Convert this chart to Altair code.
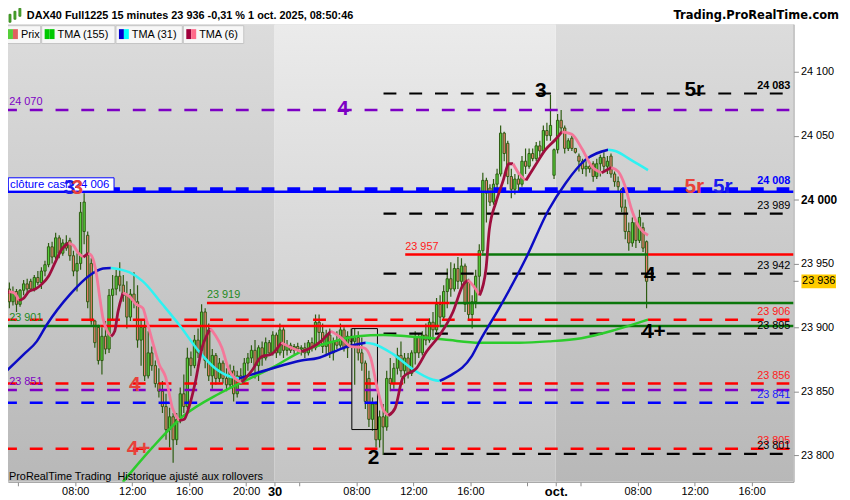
import altair as alt
import pandas as pd

# 15 minute candles, bar 0 = 29 sept 03:00 (sessions 02:15 - 22:00)
bar_open = [23924, 23930, 23920, 23928, 23918, 23929, 23934, 23936, 23930, 23939,
            23935, 23944, 23949, 23963, 23955, 23970, 23958, 23966, 23968, 23956,
            23944, 23950, 23975, 23972, 23950, 23905, 23900, 23874, 23893, 23883,
            23925, 23930, 23940, 23933, 23925, 23908, 23926, 23920, 23890, 23900,
            23862, 23880, 23870, 23856, 23850, 23838, 23820, 23830, 23812, 23828,
            23848, 23838, 23876, 23870, 23890, 23882, 23912, 23898, 23862, 23878,
            23860, 23872, 23860, 23855, 23866, 23848, 23862, 23858, 23872, 23876,
            23882, 23870, 23884, 23876, 23888, 23880, 23894, 23880, 23898, 23882,
            23886, 23882, 23885, 23883, 23884, 23880, 23888, 23884, 23904, 23896,
            23885, 23894, 23880, 23889, 23886, 23898, 23884, 23893, 23889, 23892,
            23880, 23872, 23860, 23828, 23840, 23812, 23830, 23822, 23860, 23856,
            23868, 23878, 23866, 23876, 23864, 23880, 23892, 23880, 23894, 23890,
            23904, 23898, 23918, 23908, 23928, 23938, 23930, 23946, 23936, 23948,
            23935, 23910, 23920, 23940, 23960, 24015, 24009, 23998, 24012, 24020,
            24052, 24044, 24018, 24008, 24016, 24012, 24030, 24026, 24036, 24032,
            24042, 24038, 24054, 24050, 24019, 24039, 24062, 24056, 24040, 24048,
            24040, 24034, 24030, 24024, 24026, 24028, 24018, 24028, 24033, 24026,
            24034, 24020, 24014, 24008, 23994, 23975, 23966, 23982, 23968, 23978,
            23967]
bar_high = [23930, 23935, 23932, 23930, 23930, 23937, 23938, 23938, 23941, 23944,
            23947, 23952, 23966, 23967, 23974, 23972, 23969, 23972, 23970, 23960,
            23958, 23998, 24005, 23975, 23954, 23906, 23902, 23900, 23905, 23930,
            23941, 23945, 23951, 23941, 23936, 23930, 23943, 23933, 23905, 23905,
            23897, 23885, 23874, 23868, 23858, 23848, 23837, 23833, 23833, 23853,
            23863, 23884, 23881, 23894, 23899, 23918, 23915, 23903, 23883, 23880,
            23876, 23874, 23868, 23871, 23870, 23866, 23868, 23876, 23880, 23886,
            23890, 23886, 23889, 23892, 23890, 23897, 23896, 23903, 23900, 23890,
            23888, 23887, 23888, 23886, 23888, 23890, 23892, 23910, 23910, 23903,
            23898, 23899, 23892, 23897, 23903, 23900, 23897, 23899, 23899, 23897,
            23892, 23874, 23866, 23845, 23842, 23835, 23840, 23866, 23876, 23872,
            23884, 23889, 23880, 23880, 23882, 23897, 23895, 23897, 23903, 23907,
            23912, 23923, 23925, 23933, 23946, 23951, 23950, 23955, 23954, 23950,
            23938, 23925, 23945, 23965, 24021, 24017, 24012, 24016, 24024, 24058,
            24053, 24046, 24024, 24020, 24022, 24034, 24040, 24040, 24040, 24045,
            24046, 24058, 24060, 24082, 24040, 24067, 24070, 24058, 24048, 24050,
            24040, 24036, 24032, 24030, 24028, 24030, 24032, 24035, 24037, 24034,
            24036, 24022, 24018, 24009, 24000, 23982, 23986, 23984, 23992, 23982,
            23968]
bar_low = [23918, 23915, 23917, 23912, 23916, 23925, 23926, 23928, 23928, 23933,
           23930, 23940, 23947, 23950, 23953, 23954, 23956, 23960, 23952, 23940,
           23928, 23945, 23965, 23915, 23902, 23884, 23871, 23863, 23879, 23880,
           23905, 23925, 23928, 23920, 23899, 23905, 23915, 23884, 23870, 23858,
           23860, 23866, 23853, 23845, 23833, 23812, 23806, 23794, 23808, 23825,
           23833, 23836, 23862, 23868, 23876, 23879, 23868, 23858, 23852, 23855,
           23857, 23856, 23850, 23852, 23842, 23845, 23855, 23856, 23866, 23872,
           23860, 23858, 23870, 23874, 23878, 23878, 23876, 23878, 23876, 23878,
           23880, 23879, 23880, 23878, 23876, 23878, 23881, 23882, 23885, 23880,
           23878, 23876, 23874, 23883, 23884, 23881, 23876, 23886, 23855, 23874,
           23866, 23836, 23822, 23819, 23806, 23806, 23800, 23819, 23850, 23852,
           23863, 23861, 23856, 23860, 23862, 23871, 23876, 23878, 23886, 23888,
           23890, 23896, 23902, 23906, 23915, 23924, 23928, 23930, 23932, 23912,
           23905, 23899, 23915, 23925, 23958, 23982, 23995, 23996, 24006, 24018,
           24030, 24012, 24001, 24004, 24006, 24010, 24020, 24024, 24030, 24030,
           24034, 24036, 24046, 24046, 24016, 24036, 24052, 24036, 24038, 24038,
           24036, 24022, 24020, 24018, 24021, 24014, 24016, 24018, 24022, 24020,
           24017, 24010, 24006, 23990, 23969, 23960, 23963, 23962, 23966, 23959,
           23915]
bar_close = [23928, 23920, 23928, 23918, 23929, 23934, 23930, 23930, 23939, 23935,
             23944, 23949, 23963, 23955, 23970, 23958, 23966, 23962, 23956, 23944,
             23950, 23990, 23998, 23920, 23905, 23888, 23874, 23893, 23883, 23925,
             23930, 23940, 23933, 23925, 23908, 23926, 23920, 23890, 23900, 23862,
             23880, 23870, 23856, 23850, 23838, 23820, 23830, 23812, 23828, 23848,
             23838, 23876, 23870, 23890, 23880, 23912, 23874, 23862, 23878, 23860,
             23872, 23860, 23855, 23866, 23848, 23862, 23858, 23872, 23876, 23882,
             23870, 23884, 23876, 23888, 23880, 23894, 23880, 23898, 23882, 23886,
             23882, 23885, 23883, 23884, 23880, 23888, 23884, 23904, 23896, 23885,
             23894, 23880, 23889, 23886, 23898, 23884, 23893, 23889, 23892, 23880,
             23872, 23842, 23828, 23840, 23812, 23830, 23822, 23860, 23856, 23868,
             23878, 23866, 23876, 23864, 23880, 23892, 23880, 23894, 23890, 23904,
             23898, 23918, 23908, 23928, 23938, 23930, 23946, 23936, 23948, 23918,
             23910, 23920, 23940, 23960, 24015, 24005, 23998, 24012, 24020, 24052,
             24036, 24018, 24008, 24016, 24012, 24030, 24026, 24036, 24032, 24042,
             24038, 24054, 24050, 24058, 24039, 24062, 24056, 24040, 24046, 24040,
             24037, 24030, 24024, 24026, 24024, 24018, 24028, 24033, 24026, 24030,
             24020, 24014, 24010, 23994, 23975, 23966, 23982, 23968, 23986, 23962,
             23936]

# triangular moving averages (bar, value)
tma6_bar = [0, 1.4, 2.8, 4.2, 5.6, 7.0, 8.8, 10.7, 12.5, 14.4, 16.2, 18.1, 19.5,
            20.9, 22.3, 23.7, 24.6, 26.0, 26.9, 27.8, 29.2, 30.1, 31.1, 32.0, 33.4,
            35.3, 37.1, 39.0, 39.9, 41.7, 43.6, 45.4, 47.3, 49.2, 50.6, 51.9, 53.8,
            55.6, 57.0, 58.0, 59.3, 61.2, 63.1, 64.9, 66.8, 69.6, 72.3, 75.1, 77.9,
            80.7, 83.5, 86.3, 89.0, 91.8, 94.6, 97.4, 101.1, 103.0, 104.8, 106.6,
            108.0, 109.9, 112.1, 115.9, 118.7, 122.4, 126.1, 128.9, 130.3, 131.7,
            133.6, 135.4, 136.3, 138.2, 140.0, 141.9, 143.0, 144.7, 146.6, 149.3,
            152.1, 154.9, 156.7, 159.5, 162.3, 165.1, 167.9, 170.6, 172.5, 174.4,
            176.2, 178.1, 180.9]
tma6_val = [23925, 23928, 23927, 23921, 23923, 23928, 23930, 23934, 23940, 23951,
            23961, 23966, 23964, 23958, 23955, 23958, 23956, 23941, 23923, 23907,
            23896, 23893, 23897, 23912, 23927, 23924, 23918, 23915, 23907, 23889,
            23871, 23861, 23837, 23827, 23828, 23837, 23858, 23884, 23894, 23899,
            23894, 23884, 23867, 23860, 23857, 23866, 23877, 23879, 23888, 23884,
            23881, 23884, 23889, 23897, 23892, 23885, 23884, 23876, 23853, 23835,
            23831, 23837, 23861, 23868, 23881, 23894, 23912, 23933, 23937, 23933,
            23925, 23946, 23976, 23998, 24013, 24028, 24028, 24020, 24015, 24027,
            24039, 24047, 24053, 24051, 24040, 24026, 24021, 24025, 24022, 24011,
            23993, 23980, 23972]
tma31_bar = [0, 5.6, 9.2, 12.0, 18.6, 24.2, 27.8, 30.0, 35.3, 39.0, 44.5, 49.2,
             54.8, 59.3, 64.8, 66.0, 74.3, 83.5, 88.2, 92.7, 96.5, 101.6, 103.8,
             109.3, 114.9, 120.5, 122.4, 125.2, 131.3, 133.6, 139.1, 146.6, 153.0,
             157.8, 163.3, 169.7, 171.7, 176.1, 180.9]
tma31_val = [23864, 23879, 23889, 23902, 23926, 23941, 23946, 23946.5, 23943, 23936,
             23918, 23902, 23881, 23868, 23860.5, 23860, 23867, 23874, 23876, 23881,
             23885, 23888, 23887, 23879, 23867, 23859, 23858, 23862, 23877, 23889,
             23915, 23954, 23992, 24013, 24031, 24039, 24038, 24031, 24023]
tma155_bar = [33.4, 41.7, 50.1, 60.4, 67.6, 75.1, 83.5, 92.7, 99.3, 106.6, 113.2,
              120.5, 125.2, 133.6, 144.7, 153.0, 162.2, 171.7, 180.9]
tma155_val = [23779, 23806, 23830, 23848, 23858, 23868, 23881, 23889, 23893, 23894,
              23893, 23891.5, 23890, 23888, 23888, 23889, 23891.5, 23898, 23906]

# time axis (bar index of each tick) and its labels
tick_bars = [4, 20, 36, 52, 68, 76, 83, 99, 115, 131, 147, 155, 162, 178, 194, 210]
tick_labels = ["", "08:00", "12:00", "16:00", "20:00", "30", "", "08:00", "12:00",
               "16:00", "", "oct.", "", "08:00", "12:00", "16:00"]
price_ticks = [23800, 23850, 23900, 23950, 24000, 24050, 24100]

# horizontal levels: price, first bar, last bar, group
level_price = [24083, 24070, 24008, 24006, 23989, 23957, 23957, 23957, 23942, 23919,
               23919, 23906, 23901, 23901, 23901, 23895, 23856, 23851, 23841, 23805,
               23801]
level_from = [106.6, 0, 0, 0, 106.6, 112.7, 134.1, 180.9, 106.6, 57.0,
              125.2, 0, 0, 27.0, 122.4, 106.6, 0, 0, 0, 0,
              106.6]
level_to = [219.5, 220.6, 220.6, 221.8, 219.5, 134.1, 180.9, 221.8, 219.5, 125.2,
            221.8, 220.6, 27.0, 122.4, 221.8, 219.5, 220.6, 220.6, 220.6, 220.6,
            219.5]
level_kind = ["pivot", "wave4", "cash_ref", "cash", "pivot", "cross_dn", "cross_up",
              "cross_dn", "pivot", "cross_dn", "cross_up", "level_red", "cross_up",
              "cross_dn", "cross_up", "pivot", "level_red", "wave4", "level_blue",
              "level_red", "pivot"]

right_tag_price = [24083, 24008, 23989, 23942, 23906, 23895, 23856, 23841, 23805, 23801]
right_tag_kind = ["pivot", "cash_ref", "pivot", "pivot", "level_red", "pivot",
                  "level_red", "level_blue", "level_red", "pivot"]
left_tag_price = [24070, 23901, 23851]
left_tag_kind = ["wave4", "cross_up", "wave4"]
inline_tag_price = [23957, 23919]
inline_tag_bar = [112.7, 57.0]
inline_tag_kind = ["cross_dn", "cross_up"]

# wave counts
wave_text = ["4", "3", "5r", "5r", "5r", "3", "3", "4", "4+", "4", "4+", "2"]
wave_bar = [95.2, 150.8, 193.9, 193.9, 201.9, 18.4, 20.6, 181.4, 182.5, 36.7, 37.8, 103.8]
wave_price = [24070.5, 24084.5, 24086, 24009.7, 24009.7, 24009.3, 24009.3, 23941.1,
              23896.1, 23855, 23804.6, 23797.6]
wave_kind = ["purple", "black", "black", "red", "blue", "blue", "red", "black",
             "black", "red", "red", "black"]

zone_from, zone_to = 97.7, 104.9
zone_top, zone_bottom = 23899, 23820
cash_close = 24006
last_price = 23936

# ---------------------------------------------------------------- look
FONT = "Liberation Sans"
WICK = "#2e5c12"
UP = "#56cf3a"
DOWN = "#e8806e"

W, H = 793, 462
X0, X1 = 1.113, 221.76
Y0, Y1 = 23779.1, 24137.2
LEFT, TOP = 4, 20  # where the plot sits in the screenshot

STYLE = {
    "pivot": dict(color="#000000", strokeWidth=2.2, strokeDash=[13, 13]),
    "wave4": dict(color="#7d00c4", strokeWidth=2.5, strokeDash=[13, 13]),
    "cash_ref": dict(color="#0000ff", strokeWidth=4, strokeDash=[13, 13]),
    "cash": dict(color="#0000ff", strokeWidth=2.5),
    "cross_dn": dict(color="#ff0000", strokeWidth=2.5),
    "cross_up": dict(color="#0b760b", strokeWidth=2.5),
    "level_red": dict(color="#ff0000", strokeWidth=2.5, strokeDash=[13, 13]),
    "level_blue": dict(color="#0000ff", strokeWidth=2.5, strokeDash=[13, 13]),
}
TEXT_COL = {"pivot": "#000000", "wave4": "#7d00c4", "cash_ref": "#0000ff",
            "cross_dn": "#ff1a1a", "cross_up": "#1f8a1f", "level_red": "#ff1a1a",
            "level_blue": "#1a1aff"}
WAVE_COL = {"black": "#000000", "purple": "#7d00c4", "red": "#e8413a", "blue": "#1a1aee"}
BOLD_TAGS = {24083, 24008}


def fmt(p):
    return f"{int(p):,}".replace(",", " ")


# time axis labels
named = [(b, t) for b, t in zip(tick_bars, tick_labels) if t]
label_expr = "''"
for b, t in reversed(named):
    label_expr = f"datum.value == {b} ? '{t}' : ({label_expr})"
day_test = " || ".join(f"datum.value == {b}" for b, t in named if ":" not in t)

XSCALE = alt.Scale(domain=[X0, X1], nice=False, zero=False)
YSCALE = alt.Scale(domain=[Y0, Y1], nice=False, zero=False)
XAXIS = alt.Axis(
    values=tick_bars, labelExpr=label_expr, grid=False, tickSize=4,
    tickColor="#8c8c8c", domainColor="#9a9a9a", labelColor="#000000",
    labelFont=FONT, labelPadding=6, labelBaseline="middle",
    labelFlush=False, labelOverlap=False,
    labelFontSize={"condition": {"test": day_test, "value": 13}, "value": 11},
    labelFontWeight={"condition": {"test": day_test, "value": "bold"}, "value": "normal"},
)
YAXIS = alt.Axis(
    orient="right", values=price_ticks, grid=False, tickSize=5,
    labelExpr="replace(format(datum.value, ','), ',', ' ')",
    tickColor="#8c8c8c", domainColor="#9a9a9a", labelColor="#000000",
    labelFont=FONT, labelPadding=2,
    labelFontSize={"condition": {"test": "datum.value == 24000", "value": 12}, "value": 11},
    labelFontWeight={"condition": {"test": "datum.value == 24000", "value": "bold"},
                     "value": "normal"},
)


def X(field):
    return alt.X(field, type="quantitative", scale=XSCALE, axis=XAXIS, title=None)


def Y(field):
    return alt.Y(field, type="quantitative", scale=YSCALE, axis=YAXIS, title=None)


def shade(top, bottom):
    return alt.LinearGradient(
        gradient="linear", x1=0, x2=0, y1=0, y2=1,
        stops=[alt.GradientStop(color=top, offset=0),
               alt.GradientStop(color=bottom, offset=1)])


def by_slope(bars, vals, rising, falling):
    rows, seg, last = [], 0, None
    for i in range(1, len(bars)):
        col = rising if vals[i] >= vals[i - 1] else falling
        if col != last:
            seg += 1
            rows.append({"b": bars[i - 1], "v": vals[i - 1], "seg": seg, "col": col})
            last = col
        rows.append({"b": bars[i], "v": vals[i], "seg": seg, "col": col})
    return pd.DataFrame(rows)


ONE = pd.DataFrame({"k": [0]})


def px_rect(x0, x1, y0, y1, **kw):
    return alt.Chart(ONE).mark_rect(**kw).encode(
        x=alt.value(x0 - LEFT), x2=alt.value(x1 - LEFT),
        y=alt.value(y0 - TOP), y2=alt.value(y1 - TOP))


def px_text(x, y, text, **kw):
    kw.setdefault("font", FONT)
    kw.setdefault("fontSize", 11)
    return alt.Chart(ONE).mark_text(text=text, baseline="middle", **kw).encode(
        x=alt.value(x - LEFT), y=alt.value(y - TOP))


layers = []

# day backgrounds
days = pd.DataFrame({"s": [0, 76, 155], "e": [76, 155, X1]})
for idx, (top, bottom) in [([0, 2], ("#dcdcdc", "#b8b8b8")), ([1], ("#ebebeb", "#c4c4c4"))]:
    layers.append(alt.Chart(days.iloc[idx]).mark_rect(clip=True, color=shade(top, bottom)).encode(
        x=X("s"), x2="e", y=alt.value(0), y2=alt.value(H)))

# candles
candles = pd.DataFrame({"o": bar_open, "h": bar_high, "l": bar_low, "c": bar_close})
candles["b"] = range(len(candles))
base = alt.Chart(candles).transform_calculate(
    mid="datum.b + 0.5", left="datum.b + 0.18", right="datum.b + 0.82")
layers.append(base.mark_rule(color=WICK, strokeWidth=1.2, clip=True).encode(
    x=X("mid:Q"), y=Y("l"), y2="h"))
layers.append(base.mark_rect(stroke=WICK, strokeWidth=1, clip=True).encode(
    x=X("left:Q"), x2="right:Q", y=Y("o"), y2="c",
    color=alt.condition("datum.c >= datum.o", alt.value(UP), alt.value(DOWN))))

# levels
levels = pd.DataFrame({"p": level_price, "b0": level_from, "b1": level_to, "kind": level_kind})
for kind, style in STYLE.items():
    layers.append(alt.Chart(levels[levels.kind == kind]).mark_rule(clip=True, **style).encode(
        x=X("b0"), x2="b1", y=Y("p")))

# framed zone
zone = pd.DataFrame({"b0": [zone_from], "b1": [zone_to], "p0": [zone_top], "p1": [zone_bottom]})
layers.append(alt.Chart(zone).mark_rect(fillOpacity=0, stroke="#000000", strokeWidth=1).encode(
    x=X("b0"), x2="b1", y=Y("p0"), y2="p1"))

# moving averages
tma155 = pd.DataFrame({"b": tma155_bar, "v": tma155_val})
layers.append(alt.Chart(tma155).mark_line(color="#2ccc2c", strokeWidth=2.5, clip=True,
                                          interpolate="monotone").encode(x=X("b"), y=Y("v")))
for df, width in [(by_slope(tma31_bar, tma31_val, "#0c0cc4", "#2ef2f2"), 2.5),
                  (by_slope(tma6_bar, tma6_val, "#9e0f3e", "#f4789a"), 2.8)]:
    layers.append(alt.Chart(df).mark_line(strokeWidth=width, clip=True,
                                          interpolate="monotone").encode(
        x=X("b"), y=Y("v"), detail="seg:N", color=alt.Color("col:N", scale=None)))

# level tags
tags = pd.concat([
    pd.DataFrame({"p": right_tag_price, "kind": right_tag_kind, "b": 220.9, "side": "right"}),
    pd.DataFrame({"p": left_tag_price, "kind": left_tag_kind, "b": 1.45, "side": "left"}),
    pd.DataFrame({"p": inline_tag_price, "kind": inline_tag_kind, "b": inline_tag_bar,
                  "side": "left"}),
], ignore_index=True)
tags["label"] = tags.p.map(fmt)
tags["col"] = tags.kind.map(TEXT_COL)
tags["bold"] = tags.p.isin(BOLD_TAGS) & (tags.side == "right")
for side in ["right", "left"]:
    for bold in [False, True]:
        sub = tags[(tags.side == side) & (tags.bold == bold)]
        if sub.empty:
            continue
        layers.append(alt.Chart(sub).mark_text(
            align=side, baseline="middle", dy=-8, font=FONT, fontSize=11,
            fontWeight="bold" if bold else "normal").encode(
            x=X("b"), y=Y("p"), text="label:N", color=alt.Color("col:N", scale=None)))

# cash close box
cash = pd.DataFrame({"b0": [1.2], "b1": [30.9], "p0": [cash_close + 0.6],
                     "p1": [cash_close + 11.0], "pm": [cash_close + 5.6],
                     "label": [f"clôture cash {fmt(cash_close)}"]})
layers.append(alt.Chart(cash).mark_rect(fill="#ffffff", stroke="#0000ff", strokeWidth=1).encode(
    x=X("b0"), x2="b1", y=Y("p0"), y2="p1"))
layers.append(alt.Chart(cash).transform_calculate(bt="datum.b0 + 0.5").mark_text(
    align="left", baseline="middle", font=FONT, fontSize=11.5, color="#0000ff").encode(
    x=X("bt:Q"), y=Y("pm"), text="label:N"))

# wave labels
waves = pd.DataFrame({"t": wave_text, "b": wave_bar, "p": wave_price, "kind": wave_kind})
waves["col"] = waves.kind.map(WAVE_COL)
layers.append(alt.Chart(waves).mark_text(
    font=FONT, fontSize=21, fontWeight="bold", baseline="middle", align="center").encode(
    x=X("b"), y=Y("p"), text="t:N", color=alt.Color("col:N", scale=None)))

# last price on the scale
last = pd.DataFrame({"b0": [224.0], "b1": [233.7], "bm": [228.85], "t0": [X1], "t1": [223.2],
                     "lo": [last_price - 5.4], "hi": [last_price + 5.4], "p": [last_price],
                     "label": [fmt(last_price)]})
layers.append(alt.Chart(last).mark_rule(color="#8c8c8c").encode(x=X("t0"), x2="t1", y=Y("p")))
layers.append(alt.Chart(last).mark_rect(color="#ffcc00").encode(
    x=X("b0"), x2="b1", y=Y("lo"), y2="hi"))
layers.append(alt.Chart(last).mark_text(font=FONT, fontSize=11, color="#000000").encode(
    x=X("bm"), y=Y("p"), text="label:N"))

# header, legend tabs and footer
for x0, x1, y0, y1 in [(5, 7, 10, 18), (10, 12, 7, 15), (15, 17, 4, 12)]:
    layers.append(px_rect(x0, x1, y0, y1, color="#4caf30", stroke="#2e7d12", strokeWidth=0.8))
layers.append(px_text(23, 12, "DAX40 Full1225 15 minutes 23 936 -0,31 % 1 oct. 2025, 08:50:46",
                      align="left", fontWeight="bold"))
layers.append(px_text(843, 12, "Trading.ProRealTime.com", align="right", fontWeight="bold",
                      font="DejaVu Sans", fontSize=11.6))
tabs = [(1, 37, "Prix", UP, "#e06060"), (38, 112, "TMA (155)", "#00c800", "#00c800"),
        (113, 180, "TMA (31)", "#0000cc", "#00ffff"), (181, 242, "TMA (6)", "#a0003c", "#ff6a8a")]
for x0, x1, name, c1, c2 in tabs:
    layers.append(px_rect(x0, x1, 21.5, 39.5, color="#f7f7f7", stroke="#c4c4c4", strokeWidth=1))
    layers.append(px_rect(x0 + 3, x0 + 8, 25, 35, color=c1))
    layers.append(px_rect(x0 + 8, x0 + 13, 25, 35, color=c2))
    layers.append(px_text(x0 + 16, 30.5, name, align="left", color="#000000"))
layers.append(px_text(5, 477, "ProRealTime Trading \u00a0Historique ajusté aux rollovers",
                      align="left", color="#000000"))

chart = alt.layer(*layers).properties(
    width=W, height=H, autosize="none",
    padding={"left": 0, "top": 14, "right": 49, "bottom": 16},
).configure_view(stroke=None).configure(background="#ffffff")

chart.save("out.html", embed_options={"renderer": "svg", "actions": False})
